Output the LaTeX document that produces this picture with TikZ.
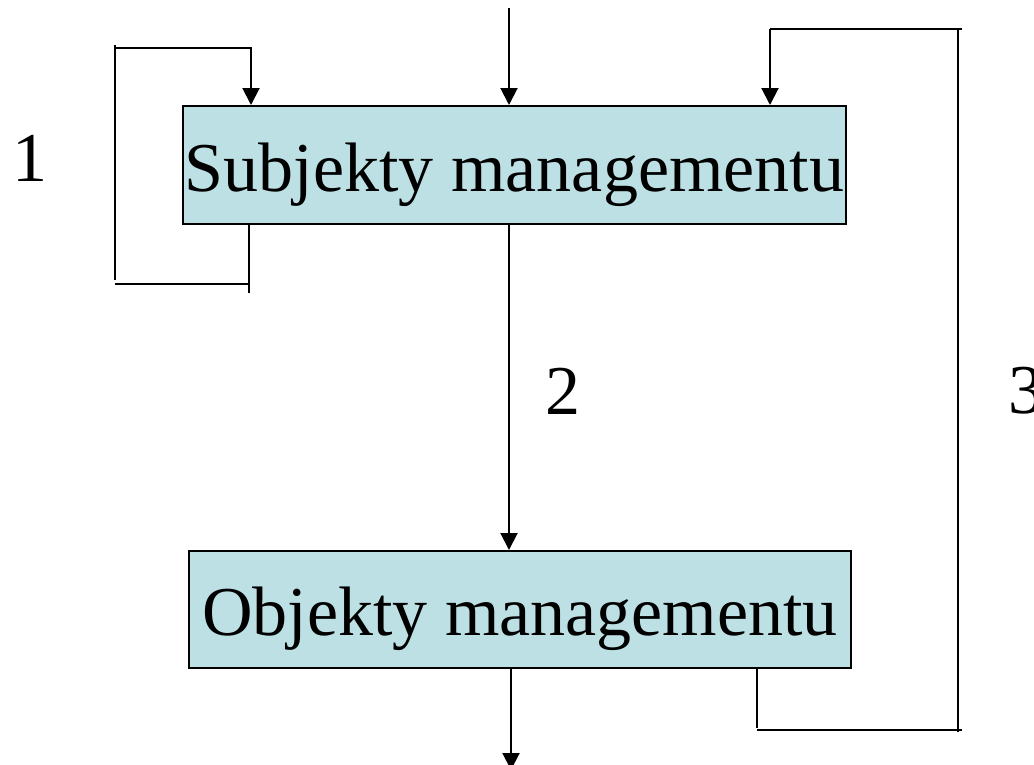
\documentclass[tikz,border=0pt]{standalone}
\usepackage{fontspec}
\setmainfont{Liberation Serif}
\usetikzlibrary{arrows.meta}
\definecolor{boxfill}{RGB}{188,224,228}
\begin{document}
\begin{tikzpicture}[x=1pt,y=-1pt,
  box/.style={draw=black,line width=2pt,fill=boxfill,inner sep=0pt,anchor=north west,
    text height=60pt,text depth=8pt,font=\fontsize{70}{84}\selectfont},
  ln/.style={line width=2pt},
  arr/.style={line width=2pt,-{Triangle[width=17pt,length=17pt]}},
  lbl/.style={font=\fontsize{70}{84}\selectfont,inner sep=0pt}]
\useasboundingbox (0,0) rectangle (1034,764);
\node[box,minimum width=663pt,minimum height=118pt] (sub) at (182,105) {Subjekty managementu};
\node[box,minimum width=662pt,minimum height=117pt] (obj) at (188,550) {Objekty managementu};
% loop 1
\coordinate (l1a) at (249,293);
\coordinate (l1b) at (250,284);
\coordinate (l1c) at (115,284);
\coordinate (l1d) at (115,280);
\coordinate (l1e) at (115,45);
\coordinate (l1f) at (115,48);
\coordinate (l1g) at (252,48);
\coordinate (l1h) at (251,48);
\draw[ln] (sub.south -| l1a) -- (l1a);
\draw[ln] (l1b) -- (l1c);
\draw[ln] (l1d) -- (l1e);
\draw[ln] (l1f) -- (l1g);
\draw[arr] (l1h) -- (sub.north -| l1h);
% top input
\coordinate (in) at (509,8);
\draw[arr] (in) -- (sub.north -| in);
% loop 2
\draw[arr] (sub.south -| in) -- (obj.north -| in);
% output
\coordinate (out) at (511,770);
\draw[arr] (obj.south -| out) -- (out);
% loop 3
\coordinate (r1) at (757,728);
\coordinate (r2) at (757,730);
\coordinate (r3) at (962,730);
\coordinate (r4) at (958,732);
\coordinate (r5) at (958,30);
\coordinate (r6) at (962,29);
\coordinate (r7) at (770,29);
\draw[ln] (obj.south -| r1) -- (r1);
\draw[ln] (r2) -- (r3);
\draw[ln] (r4) -- (r5);
\draw[ln] (r6) -- (r7);
\draw[arr] (r7) -- (sub.north -| r7);
% labels
\node[lbl,anchor=south west] (n1) at (12,182) {1};
\node[lbl,anchor=south west] (n2) at (545,415) {2};
\node[lbl,anchor=south west] (n3) at (1008,414) {3};
\end{tikzpicture}
\end{document}
